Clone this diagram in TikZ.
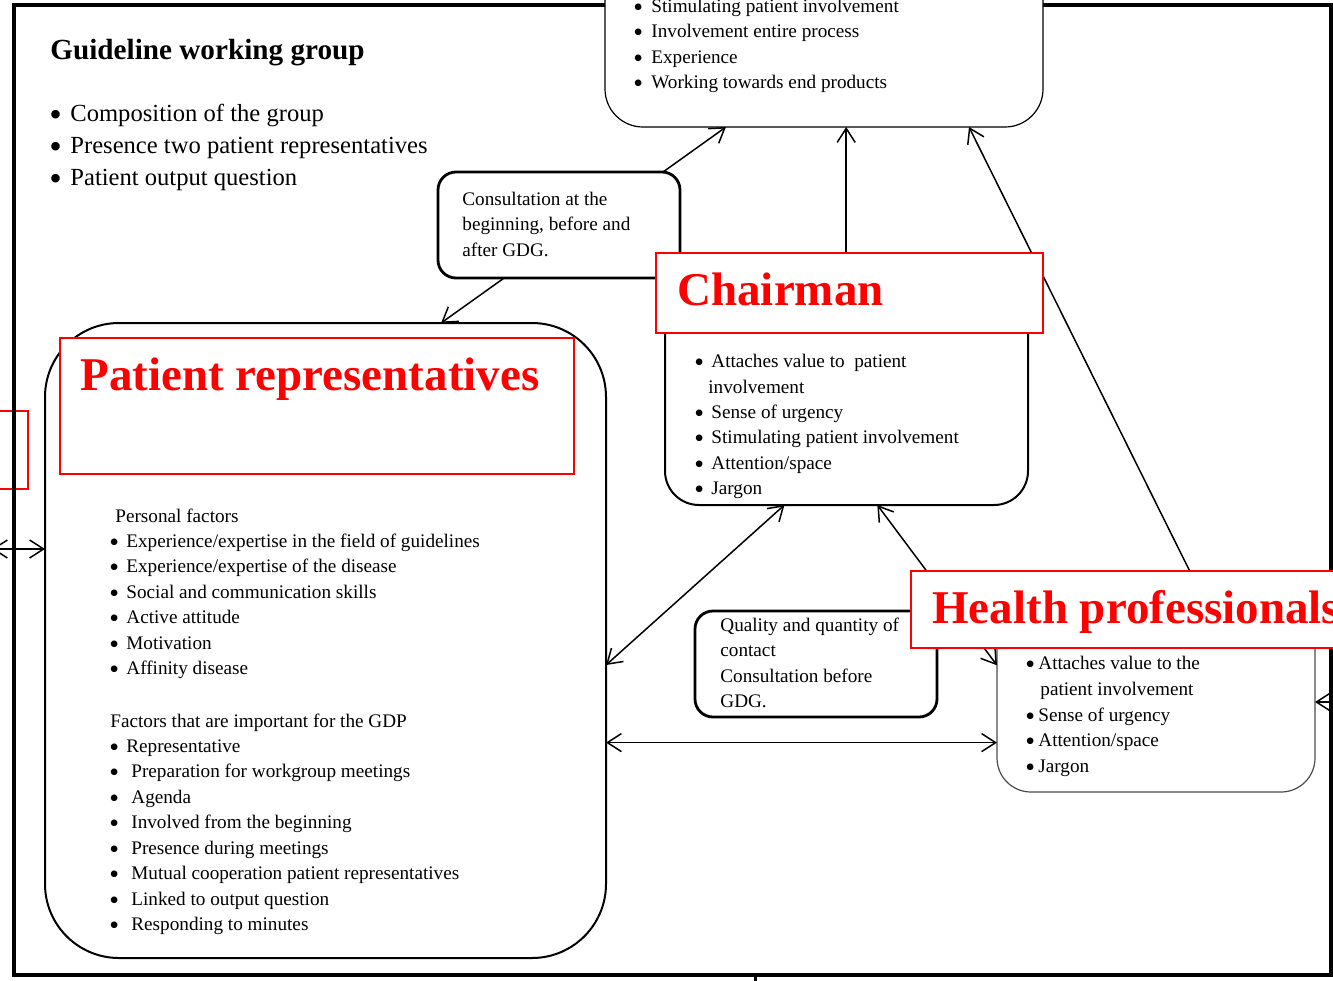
\documentclass[tikz,border=0pt]{standalone}
\usepackage{fontspec}
\setmainfont{Liberation Serif}
\usetikzlibrary{arrows.meta}
\newcommand{\itm}[1]{\makebox[#1][l]{\smash{\raisebox{-0.22em}{\scalebox{1.45}{\textbullet}}}}}

\begin{document}
\begin{tikzpicture}[x=0.5pt, y=-0.5pt,
    box/.style={draw, fill=white, outer sep=0pt},
    redbox/.style={draw=red, line width=1pt, fill=white, outer sep=0pt},
    txt/.style={anchor=base west, inner sep=0pt, font=\fontsize{9.6}{11}\selectfont},
    big/.style={anchor=base west, inner sep=0pt, font=\fontsize{12.3}{14}\selectfont},
    title/.style={anchor=base west, inner sep=0pt, text=red, font=\fontsize{23.5}{26}\selectfont\bfseries},
    link/.style={line width=0.75pt, -{Straight Barb[length=7pt,width=9pt]}},
    dlink/.style={line width=0.75pt, {Straight Barb[length=7pt,width=9pt]}-{Straight Barb[length=7pt,width=9pt]}}]

    \useasboundingbox (0,0) rectangle (1333,980);
    \clip (0,0) rectangle (1333,980);

    % Box cut off at the left edge
    \node[redbox, minimum width=44pt, minimum height=39pt] (lred) at (-16,450) {};

    % Outer frame
    \draw[line width=1.8pt] (14,5) rectangle (1331,975);
    \draw[line width=1.5pt] (755,975) -- (755,990);

    % Guideline working group
    \node[anchor=base west, inner sep=0pt, font=\fontsize{14.6}{17}\selectfont\bfseries] (gwg) at (50,59) {Guideline working group};
    \foreach \t [count=\i] in {Composition of the group, Presence two patient representatives, Patient output question}
        \node[big] (gwg-\i) at (49,89+32*\i) {\itm{10.5pt}\t};

    % Top box
    \node[box, line width=0.6pt, rounded corners=19pt, minimum width=219pt, minimum height=140pt] (top) at (824,-13) {};
    \foreach \t [count=\i] in {Stimulating patient involvement, Involvement entire process, Experience, Working towards end products}
        \node[txt] (top-\i) at (633,-13.5+25.5*\i) {\itm{9pt}\t};

    % Consultation at the beginning
    \node[box, line width=1.4pt, rounded corners=9pt, minimum width=121pt, minimum height=53pt] (cons1) at (559,225) {};
    \foreach \t [count=\i] in {Consultation at the, {beginning, before and}, after GDG.}
        \node[txt] (cons1-\i) at (462,179.5+25.5*\i) {\t};

    % Chairman box
    \node[box, line width=1pt, rounded corners=17pt, minimum width=181.5pt, minimum height=107.5pt] (chair) at (846.5,397.5) {};
    \node[txt] (chair-1) at (694,367) {\itm{8.5pt}Attaches value to\ \ patient};
    \node[txt] (chair-1b) at (708,393) {involvement};
    \foreach \t [count=\i from 2] in {Sense of urgency, Stimulating patient involvement, Attention/space, Jargon}
        \node[txt] (chair-\i) at (694,367+25.5*\i) {\itm{8.5pt}\t};

    % Patient representatives box
    \node[box, line width=1pt, rounded corners=37pt, minimum width=280.5pt, minimum height=317.5pt] (pat) at (325.5,640.5) {};
    \node[txt] (pers) at (115,522) {Personal factors};
    \foreach \t [count=\i] in {Experience/expertise in the field of guidelines, Experience/expertise of the disease, Social and communication skills, Active attitude, Motivation, Affinity disease}
        \node[txt] (pers-\i) at (109,521.5+25.5*\i) {\itm{8.5pt}\t};
    \node[txt] (gdp) at (110,727) {Factors that are important for the GDP};
    \node[txt] (gdp-1) at (109,752) {\itm{8.5pt}Representative};
    \foreach \t [count=\i from 2] in {Preparation for workgroup meetings, Agenda, Involved from the beginning, Presence during meetings, Mutual cooperation patient representatives, Linked to output question, Responding to minutes}
        \node[txt] (gdp-\i) at (109,726.5+25.5*\i) {\itm{11pt}\t};

    % Quality and quantity of contact
    \node[box, line width=1.4pt, rounded corners=9pt, minimum width=121pt, minimum height=53pt] (qual) at (816,664) {};
    \foreach \t [count=\i] in {Quality and quantity of, contact, Consultation before, GDG.}
        \node[txt] (qual-\i) at (720,605.5+25.5*\i) {\t};

    % Health professionals box
    \node[box, draw=black!70, line width=0.6pt, rounded corners=17pt, minimum width=159pt, minimum height=90pt] (hp) at (1156,702) {};
    \node[txt] (hp-1) at (1025,669) {\itm{6.5pt}Attaches value to the};
    \node[txt] (hp-1b) at (1040,695) {patient involvement};
    \foreach \t [count=\i from 2] in {Sense of urgency, Attention/space, Jargon}
        \node[txt] (hp-\i) at (1025,670+25.5*\i) {\itm{6.5pt}\t};

    % Arrows
    \coordinate (offl) at (-8,549);
    \coordinate (offr) at (1345,702);
    \draw[link] (cons1.27.69) -- (top.-125.5);
    \draw[link] (cons1.-136.57) -- (pat.70.17);
    \draw[link] (top.-81.07 |- chair.north) -- (top.-81.07);
    \draw[link] (hp.59.5) -- (top.-44.39);
    \draw[dlink] (pat.-5.8) -- (chair.-120.57);
    \draw[dlink] (chair.-74.16) -- (hp.167.93);
    \draw[dlink] (pat.-20.61) -- (pat.-20.61 -| hp.west);
    \draw[dlink] (offl) -- (offl -| pat.west);
    \draw[link] (offr) -- (hp.east);

    % Red title boxes
    \node[redbox, minimum width=193.5pt, minimum height=40pt] (chairR) at (849.5,293) {};
    \node[title] (chairT) at (677,305) {Chairman};
    \node[redbox, minimum width=257pt, minimum height=68pt] (patR) at (317,406) {};
    \node[title] (patT) at (80,390) {Patient representatives};
    \node[redbox, minimum width=224.5pt, minimum height=38.5pt] (hpR) at (1135.5,609.5) {};
    \node[title] (hpT) at (932,623) {Health professionals};
\end{tikzpicture}
\end{document}
